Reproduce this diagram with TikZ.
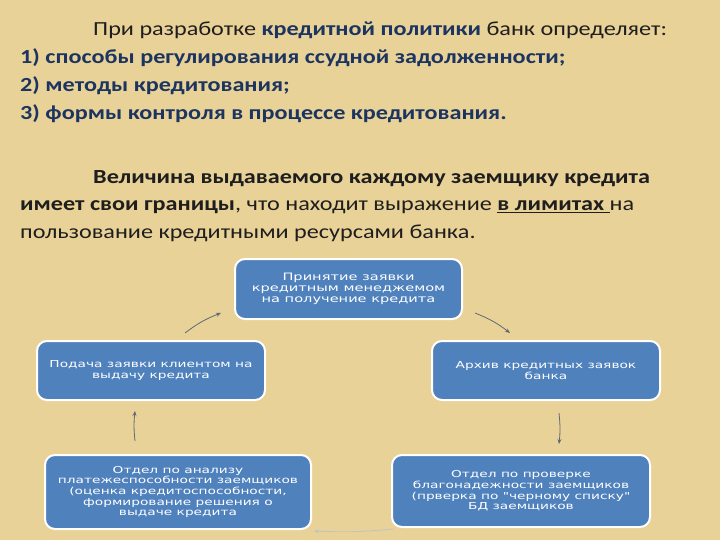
\documentclass[tikz,border=0pt]{standalone}
\usepackage{fontspec}
\setmainfont{Carlito}[FakeStretch=1.21]
\newfontfamily\boxfont{DejaVu Sans}[FakeStretch=1.43]
\usetikzlibrary{arrows.meta}
\definecolor{bg}{RGB}{233,210,152}
\definecolor{boxblue}{RGB}{79,129,189}
\definecolor{dblue}{RGB}{28,52,96}
\definecolor{txt}{RGB}{30,30,30}
\definecolor{arrgray}{RGB}{95,105,115}
\begin{document}
\begin{tikzpicture}[x=1pt,y=-1pt,
  stepbox/.style={draw=white,line width=2pt,fill=boxblue,rounded corners=10pt,
    text=white,align=center,font=\boxfont\fontsize{9.6}{10.6}\selectfont,inner sep=0pt},
  line/.style={anchor=base west,inner sep=0pt,text=txt,font=\fontsize{20}{24}\selectfont},
  arr/.style={draw=arrgray,line width=0.8pt,-{Stealth[length=5pt,width=4pt]}}]
\fill[bg] (0,0) rectangle (720,540);
\useasboundingbox (0,0) rectangle (720,540);
% text block 1
\node[line] (t1) at (93,36) {При разработке \textbf{\color{dblue}кредитной политики} банк определяет:};
\node[line,text=dblue,font=\fontsize{20}{24}\selectfont\bfseries] (t2) at (20,64) {1) способы регулирования ссудной задолженности;};
\node[line,text=dblue,font=\fontsize{20}{24}\selectfont\bfseries] (t3) at (20,92) {2) методы кредитования;};
\node[line,text=dblue,font=\fontsize{20}{24}\selectfont\bfseries] (t4) at (20,120) {3) формы контроля в процессе кредитования.};
% text block 2
\node[line,font=\fontsize{20}{24}\selectfont\bfseries] (p1) at (93,184) {Величина выдаваемого каждому заемщику кредита};
\node[line] (p2) at (20,211) {\textbf{имеет свои границы}, что находит выражение \textbf{\underline{в лимитах }}на};
\node[line] (p3) at (20,238) {пользование кредитными ресурсами банка.};
% boxes
\node[stepbox,minimum width=227pt,minimum height=60pt,font=\boxfont\fontsize{10.2}{10.8}\selectfont] (top) at (348.5,289)
  {Принятие заявки\\кредитным менеджемом\\на получение кредита};
\node[stepbox,minimum width=228pt,minimum height=59pt] (left) at (151,370.5)
  {Подача заявки клиентом на\\выдачу кредита};
\node[stepbox,minimum width=228pt,minimum height=59pt] (right) at (546,370.5)
  {Архив кредитных заявок\\банка};
\node[stepbox,minimum width=266pt,minimum height=74pt] (bl) at (178,492)
  {Отдел по анализу\\платежеспособности заемщиков\\(оценка кредитоспособности,\\формирование решения о\\выдаче кредита};
\node[stepbox,minimum width=258pt,minimum height=72pt] (br) at (521,491)
  {Отдел по проверке\\благонадежности заемщиков\\(прверка по "черному списку"\\БД заемщиков};
% connector end points
\coordinate (a1s) at (185,333); \coordinate (a1e) at (221,313);
\coordinate (a2s) at (475,313); \coordinate (a2e) at (510,333);
\coordinate (a3s) at (559,413); \coordinate (a3e) at (559,444);
\coordinate (a4s) at (135,441); \coordinate (a4e) at (135,411);
\coordinate (a5s) at (393,529); \coordinate (a5e) at (314,531);
\draw[arr] (a1s) to[bend left=8] (a1e);
\draw[arr] (a2s) to[bend left=8] (a2e);
\draw[arr] (a3s) to[bend left=6] (a3e);
\draw[arr] (a4s) to[bend left=6] (a4e);
\draw[arr,draw=arrgray!40] (a5s) to[bend left=4] (a5e);
\end{tikzpicture}
\end{document}
